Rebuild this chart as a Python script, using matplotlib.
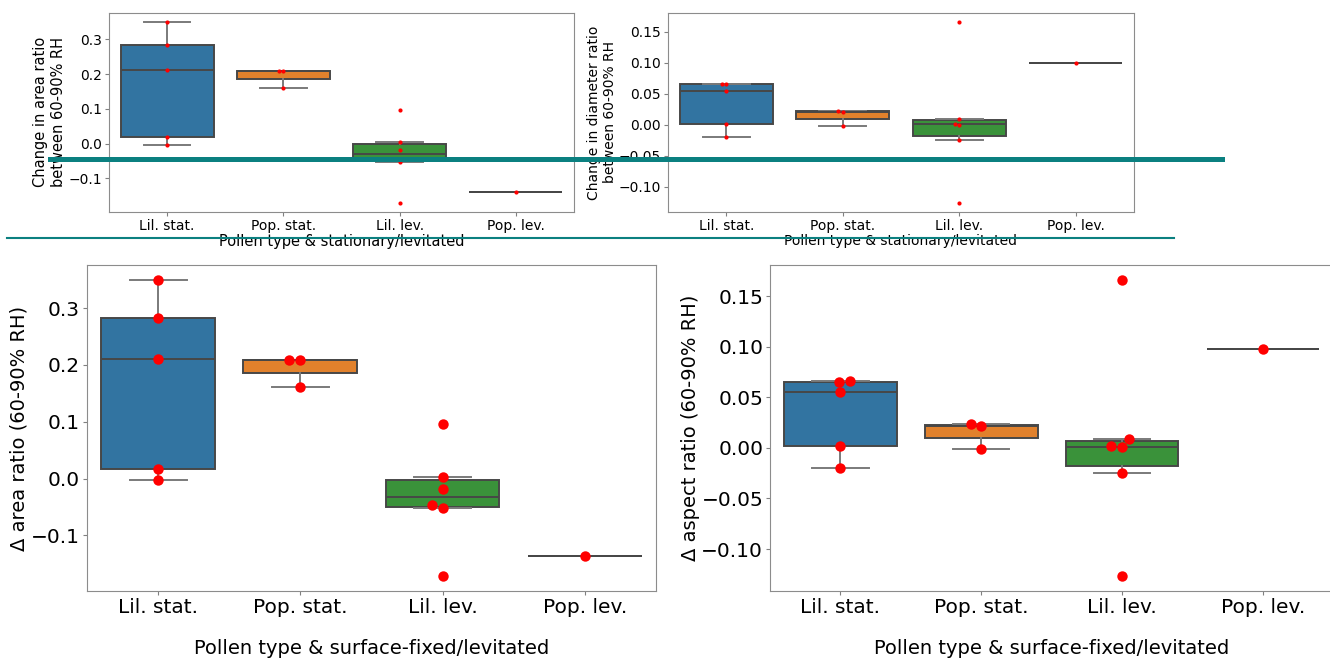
import matplotlib
matplotlib.use("Agg")
import matplotlib.pyplot as plt
import numpy as np
import pandas as pd
import seaborn as sns
from matplotlib.lines import Line2D

cats = ["Lil. stat.", "Pop. stat.", "Lil. lev.", "Pop. lev."]
box_colors = ["#3274a1", "#e1812c", "#3a923a", "#c03d3e"]

# top row (older version of the figure)
top_area = {
    "Lil. stat.": [0.350, 0.283, 0.212, 0.019, -0.003],
    "Pop. stat.": [0.210, 0.210, 0.161],
    "Lil. lev.": [0.097, 0.004, -0.017, -0.043, -0.052, -0.170],
    "Pop. lev.": [-0.140],
}
top_diam = {
    "Lil. stat.": [0.0662, 0.0652, 0.055, 0.0016, -0.020],
    "Pop. stat.": [0.022, 0.021, -0.0016],
    "Lil. lev.": [0.1656, 0.0086, 0.0016, -0.0005, -0.024, -0.126],
    "Pop. lev.": [0.0995],
}

# bottom row
bot_area = {
    "Lil. stat.": [0.350, 0.282, 0.211, 0.017, -0.003],
    "Pop. stat.": [0.209, 0.209, 0.161],
    "Lil. lev.": [0.096, 0.003, -0.018, -0.047, -0.052, -0.172],
    "Pop. lev.": [-0.136],
}
bot_aspect = {
    "Lil. stat.": [0.0662, 0.0652, 0.055, 0.0014, -0.0198],
    "Pop. stat.": [0.0234, 0.0217, -0.0013],
    "Lil. lev.": [0.166, 0.0086, 0.0015, 0.0005, -0.0247, -0.1268],
    "Pop. lev.": [0.0972],
}


def draw(ax, data, ylabel, xlabel, fs, tfs, pt, xpad, ypad, tpad):
    vals = [data[c] for c in cats]
    bp = ax.boxplot(vals, positions=range(len(cats)), widths=0.8, capwidths=0.4,
                    patch_artist=True, showfliers=False, whis=1.5)
    for patch, col in zip(bp["boxes"], box_colors):
        patch.set_facecolor(col)
        patch.set_edgecolor("#474747")
        patch.set_linewidth(1.4)
    for ln in bp["medians"]:
        ln.set_color("#474747")
        ln.set_linewidth(1.4)
    for ln in bp["whiskers"] + bp["caps"]:
        ln.set_color("#7a7a7a")
        ln.set_linewidth(1.4)
    df = pd.DataFrame([(c, v) for c in cats for v in data[c]], columns=["cat", "val"])
    sns.swarmplot(data=df, x="cat", y="val", order=cats, color="red", size=pt, ax=ax,
                  linewidth=0)
    ax.set_xlim(-0.5, 3.5)
    ax.set_xticks(range(len(cats)))
    ax.set_xticklabels(cats)
    ax.set_ylabel(ylabel, fontsize=fs, labelpad=ypad)
    ax.set_xlabel(xlabel, fontsize=fs, labelpad=xpad)
    ax.tick_params(labelsize=tfs, color="0.5", length=3, pad=tpad)
    for s in ax.spines.values():
        s.set_color("0.55")


fig = plt.figure(figsize=(13.3, 6.6), dpi=100)

ax1 = fig.add_axes([109 / 1330, 0.679, 465 / 1330, 0.3015])
draw(ax1, top_area, "Change in area ratio\nbetween 60-90% RH",
     "Pollen type & stationary/levitated", 10.5, 10, 3, 1, 2, 2)
ax2 = fig.add_axes([668 / 1330, 0.679, 466 / 1330, 0.3015])
draw(ax2, top_diam, "Change in diameter ratio\nbetween 60-90% RH",
     "Pollen type & stationary/levitated", 10, 10, 3, 1, 1, 2)

ax3 = fig.add_axes([0.0654, 0.1045, 0.4278, 0.494])
draw(ax3, bot_area, "\u0394 area ratio (60-90% RH)",
     "Pollen type & surface-fixed/levitated", 14, 14.5, 7.5, 16, 2, 2)
ax4 = fig.add_axes([0.579, 0.1045, 0.4235, 0.494])
draw(ax4, bot_aspect, "\u0394 aspect ratio (60-90% RH)",
     "Pollen type & surface-fixed/levitated", 14, 14.5, 7.5, 16, 1, 2)

# teal marker lines drawn over the screenshot
teal = "#0b8080"
fig.add_artist(Line2D([50 / 1330, 1222 / 1330], [1 - 159 / 660] * 2, color=teal, lw=3.6))
fig.add_artist(Line2D([7 / 1330, 1174 / 1330], [1 - 238 / 660] * 2, color=teal, lw=1.5))

fig.savefig("out.png", dpi=100)
